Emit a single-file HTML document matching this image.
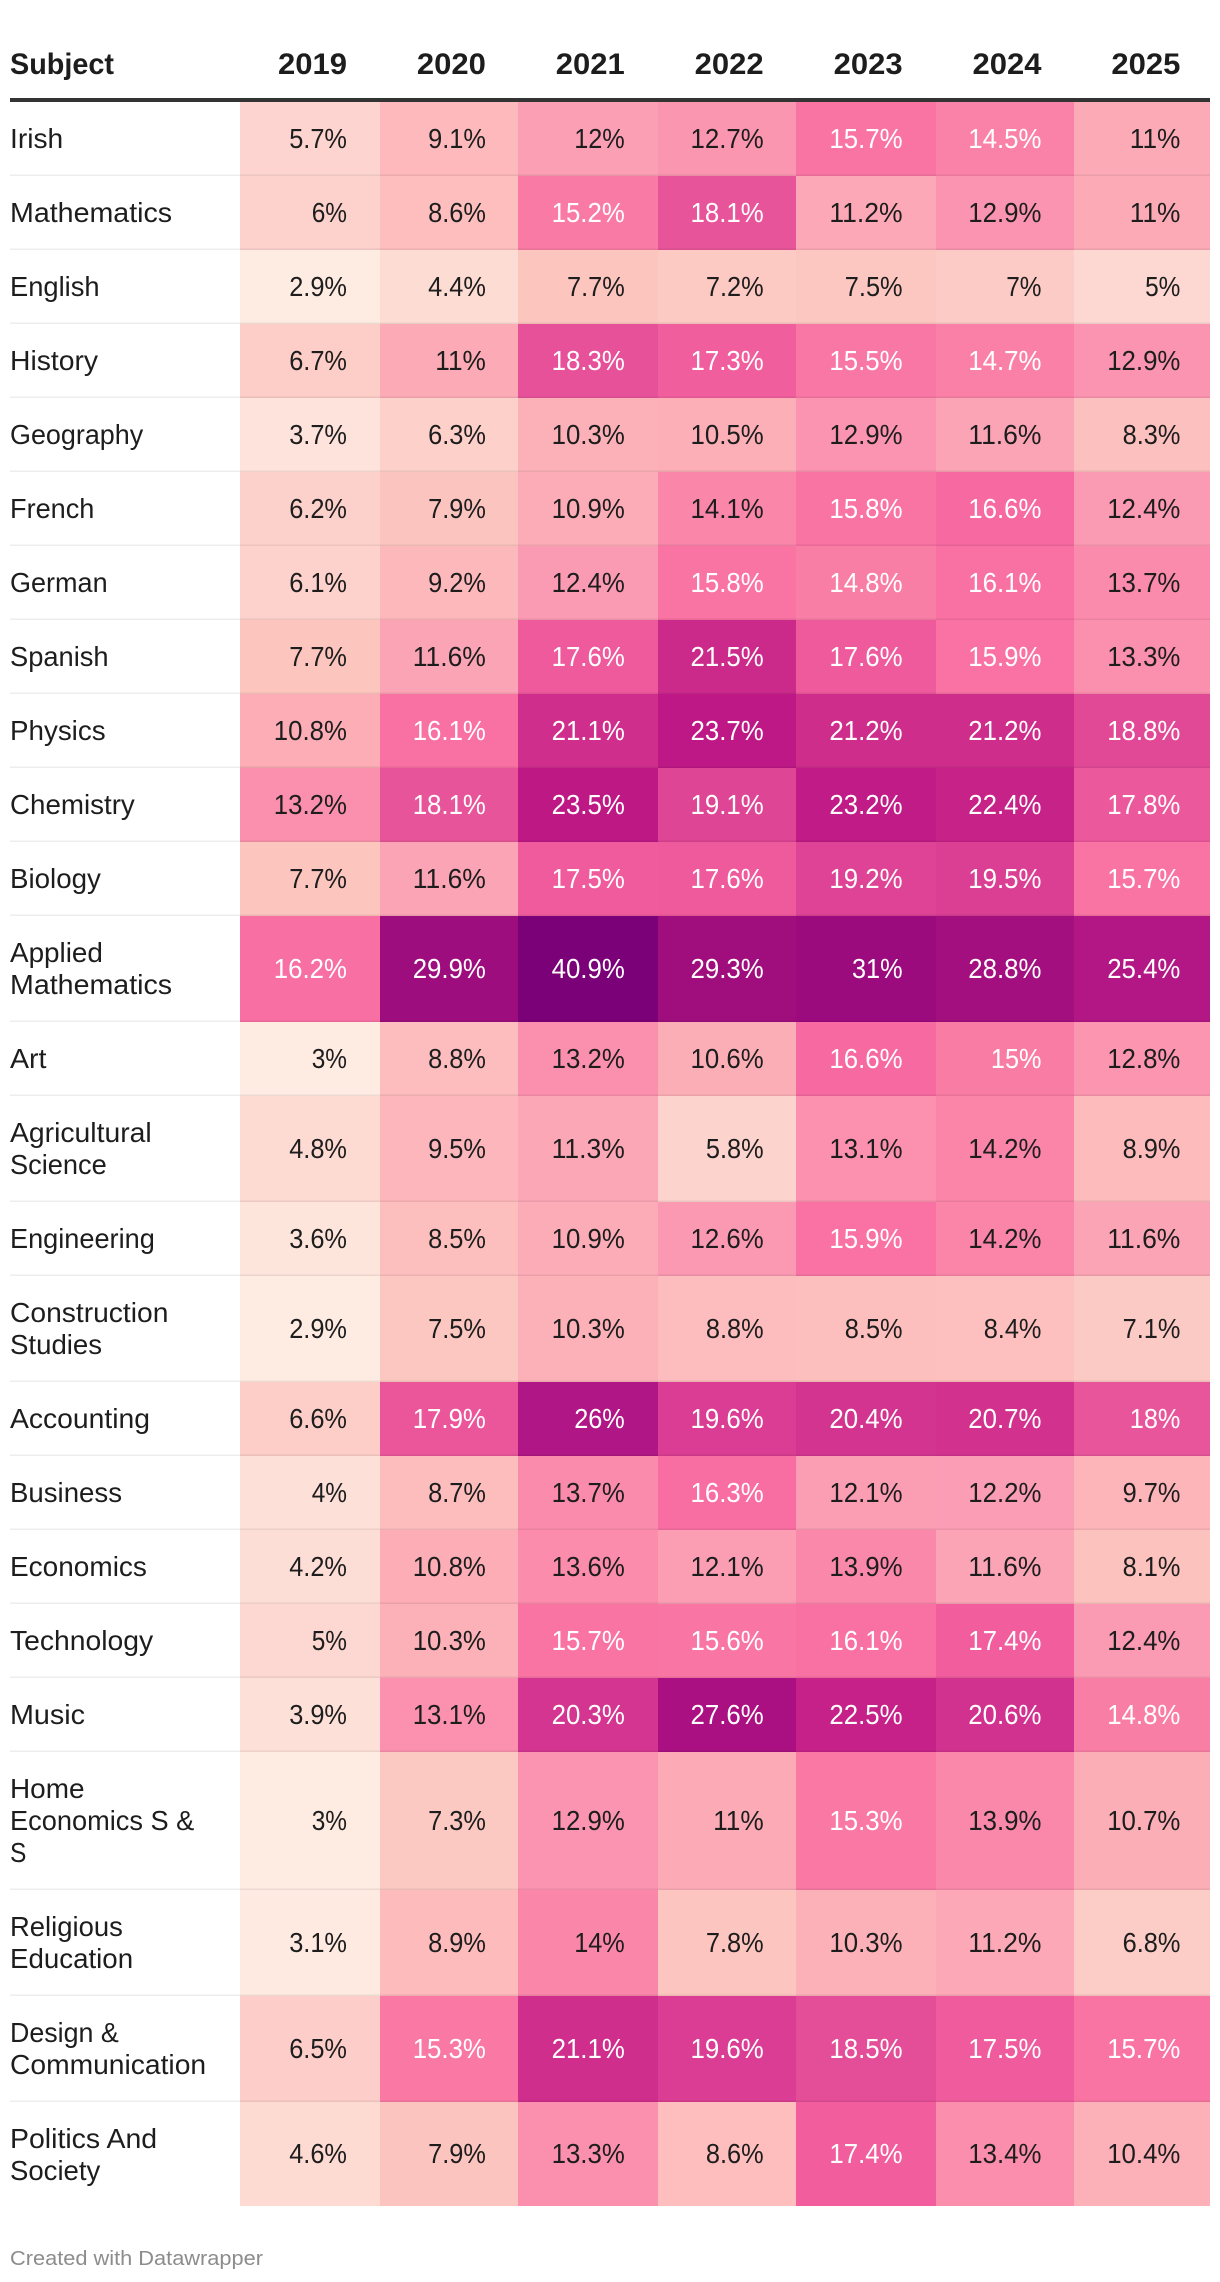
<!DOCTYPE html>
<html lang="en">
<head>
<meta charset="utf-8">
<title>Subject heatmap table</title>
<style>
  html, body { margin: 0; padding: 0; background: #fff; width: 1220px; height: 2282px; overflow: hidden; }
  svg { display: block; }
  text { font-family: "Liberation Sans", sans-serif; }
</style>
</head>
<body>
<svg id="chart" xmlns="http://www.w3.org/2000/svg" width="1220" height="2282" viewBox="0 0 1220 2282"></svg>
<script>
const years = ["2019", "2020", "2021", "2022", "2023", "2024", "2025"];

const subjects = [
  "Irish", "Mathematics", "English", "History", "Geography", "French", "German",
  "Spanish", "Physics", "Chemistry", "Biology", "Applied|Mathematics", "Art",
  "Agricultural|Science", "Engineering", "Construction|Studies", "Accounting",
  "Business", "Economics", "Technology", "Music", "Home|Economics S &|S",
  "Religious|Education", "Design &|Communication", "Politics And|Society"
];

const shareValues = [
  [5.7, 9.1, 12, 12.7, 15.7, 14.5, 11],
  [6, 8.6, 15.2, 18.1, 11.2, 12.9, 11],
  [2.9, 4.4, 7.7, 7.2, 7.5, 7, 5],
  [6.7, 11, 18.3, 17.3, 15.5, 14.7, 12.9],
  [3.7, 6.3, 10.3, 10.5, 12.9, 11.6, 8.3],
  [6.2, 7.9, 10.9, 14.1, 15.8, 16.6, 12.4],
  [6.1, 9.2, 12.4, 15.8, 14.8, 16.1, 13.7],
  [7.7, 11.6, 17.6, 21.5, 17.6, 15.9, 13.3],
  [10.8, 16.1, 21.1, 23.7, 21.2, 21.2, 18.8],
  [13.2, 18.1, 23.5, 19.1, 23.2, 22.4, 17.8],
  [7.7, 11.6, 17.5, 17.6, 19.2, 19.5, 15.7],
  [16.2, 29.9, 40.9, 29.3, 31, 28.8, 25.4],
  [3, 8.8, 13.2, 10.6, 16.6, 15, 12.8],
  [4.8, 9.5, 11.3, 5.8, 13.1, 14.2, 8.9],
  [3.6, 8.5, 10.9, 12.6, 15.9, 14.2, 11.6],
  [2.9, 7.5, 10.3, 8.8, 8.5, 8.4, 7.1],
  [6.6, 17.9, 26, 19.6, 20.4, 20.7, 18],
  [4, 8.7, 13.7, 16.3, 12.1, 12.2, 9.7],
  [4.2, 10.8, 13.6, 12.1, 13.9, 11.6, 8.1],
  [5, 10.3, 15.7, 15.6, 16.1, 17.4, 12.4],
  [3.9, 13.1, 20.3, 27.6, 22.5, 20.6, 14.8],
  [3, 7.3, 12.9, 11, 15.3, 13.9, 10.7],
  [3.1, 8.9, 14, 7.8, 10.3, 11.2, 6.8],
  [6.5, 15.3, 21.1, 19.6, 18.5, 17.5, 15.7],
  [4.6, 7.9, 13.3, 8.6, 17.4, 13.4, 10.4]
];

const colorDomain = [2.9, 4.4, 5.7, 7.7, 9.1, 10.8, 12, 13.2, 15.2, 16.1, 17.5, 18.1, 19.6, 20.3, 21.1, 23.5, 26, 27.6, 29.3, 31, 40.9];
const colorRange = ["#feece3", "#fddcd4", "#fdd4cf", "#fcc6bf", "#fdb9bc", "#fcadb6", "#fb9fb5", "#fb90ae", "#f97aa4", "#f970a3", "#f05b9d", "#e8549a", "#da3d93", "#d43590", "#cf2e8c", "#be1885", "#b01685", "#aa1082", "#a00e7e", "#9b0b7e", "#7a0177"];

const glyphUnits = {
  A:1336,B:1275,C:1333,D:1347,E:1164,F:1132,G:1396,H:1460,I:557,M:1788,P:1292,R:1261,S:1216,T:1222,
  a:1114,b:1149,c:1072,d:1155,e:1085,f:711,g:1149,h:1128,i:497,j:489,k:1038,l:497,m:1795,n:1130,o:1168,
  p:1149,q:1164,r:693,s:1056,t:669,u:1129,v:992,w:1538,x:1015,y:969,z:1015," ":507,"&":1274
};

const NS = "http://www.w3.org/2000/svg";
const svg = document.getElementById("chart");

function hexToRgb(h) {
  return [parseInt(h.slice(1, 3), 16), parseInt(h.slice(3, 5), 16), parseInt(h.slice(5, 7), 16)];
}
function colorScale(v) {
  const last = colorDomain.length - 1;
  if (v <= colorDomain[0]) return colorRange[0];
  if (v >= colorDomain[last]) return colorRange[last];
  let i = 0;
  while (v > colorDomain[i + 1]) i++;
  const t = (v - colorDomain[i]) / (colorDomain[i + 1] - colorDomain[i]);
  const a = hexToRgb(colorRange[i]);
  const b = hexToRgb(colorRange[i + 1]);
  return "rgb(" + a.map((c, k) => Math.round(c + (b[k] - c) * t)).join(",") + ")";
}
function textColor(v) {
  return v >= 14.5 ? "#ffffff" : "#1d1d1d";
}

function columnX(k) {
  return Math.min(1210, 240 + 139 * k + (k % 2));
}
function valueRight(k) {
  return 347 + 138.9 * k;
}
function rowHeight(lines) {
  return 42 + 32 * lines;
}
function numberWidth(str, fontSize) {
  let em = 0;
  for (const ch of str) {
    em += ch === "." ? 0.263 : ch === "%" ? 0.732 : 0.5615;
  }
  return em * fontSize;
}
function labelWidth(str, fontSize) {
  let units = 0;
  for (const ch of str) {
    units += glyphUnits[ch] || 1100;
  }
  return units / 2048 * fontSize;
}

function addRect(x, y, w, h, fill) {
  const r = document.createElementNS(NS, "rect");
  r.setAttribute("x", x);
  r.setAttribute("y", y);
  r.setAttribute("width", w);
  r.setAttribute("height", h);
  r.setAttribute("fill", fill);
  svg.appendChild(r);
  return r;
}
function addText(str, x, y, size, fill, weight, anchor) {
  const t = document.createElementNS(NS, "text");
  t.setAttribute("x", x);
  t.setAttribute("y", y);
  t.setAttribute("font-size", size);
  t.setAttribute("fill", fill);
  t.setAttribute("font-weight", weight);
  t.setAttribute("text-anchor", anchor);
  t.textContent = str;
  svg.appendChild(t);
  return t;
}

const FONT = 28;
const BASE_OFFSET = 9;

let rowTop = 102;
const lineSpots = [];

subjects.forEach((subject, r) => {
  const lines = subject.split("|");
  const isLast = r === subjects.length - 1;
  const h = rowHeight(lines.length);
  const cellH = isLast ? h - 2 : h;
  const center = rowTop + h / 2;
  shareValues[r].forEach((value, c) => {
    const x0 = columnX(c);
    const x1 = columnX(c + 1);
    const cell = addRect(x0, rowTop, x1 - x0, cellH, colorScale(value));
    
    
  });
  lines.forEach((line, i) => {
    const y = center + BASE_OFFSET + (i - (lines.length - 1) / 2) * 32;
    const label = addText(line, 10, y, FONT, "#1d1d1d", 400, "start");
    label.setAttribute("textLength", labelWidth(line, 27.7).toFixed(1));
    label.setAttribute("lengthAdjust", "spacingAndGlyphs");
    
    
  });
  shareValues[r].forEach((value, c) => {
    const str = value + "%";
    const t = addText(str, valueRight(c), rowTop + cellH / 2 + BASE_OFFSET, FONT, textColor(value), 400, "end");
    t.setAttribute("textLength", numberWidth(str, 27.3).toFixed(1));
    t.setAttribute("lengthAdjust", "spacingAndGlyphs");
    
    
  });
  rowTop += h;
  if (!isLast) lineSpots.push(rowTop);
});

lineSpots.forEach((y) => {
  const sep = addRect(10, y - 1.5, 1200, 1.5, "rgba(0,0,0,0.07)");
  
  
});

const headerRule = addRect(10, 98, 1200, 4, "#333333");



const subjectHead = addText("Subject", 10, 74, 29.5, "#1d1d1d", 700, "start");
subjectHead.setAttribute("textLength", "104");
subjectHead.setAttribute("lengthAdjust", "spacingAndGlyphs");



years.forEach((year, c) => {
  const t = addText(year, valueRight(c), 74, 29.5, "#1d1d1d", 700, "end");
  t.setAttribute("textLength", "69");
  t.setAttribute("lengthAdjust", "spacingAndGlyphs");
  
  
});

const credit = addText("Created with Datawrapper", 10, 2265, 20.5, "#8c8c8c", 400, "start");
credit.setAttribute("textLength", "253");
credit.setAttribute("lengthAdjust", "spacingAndGlyphs");


</script>
</body>
</html>
